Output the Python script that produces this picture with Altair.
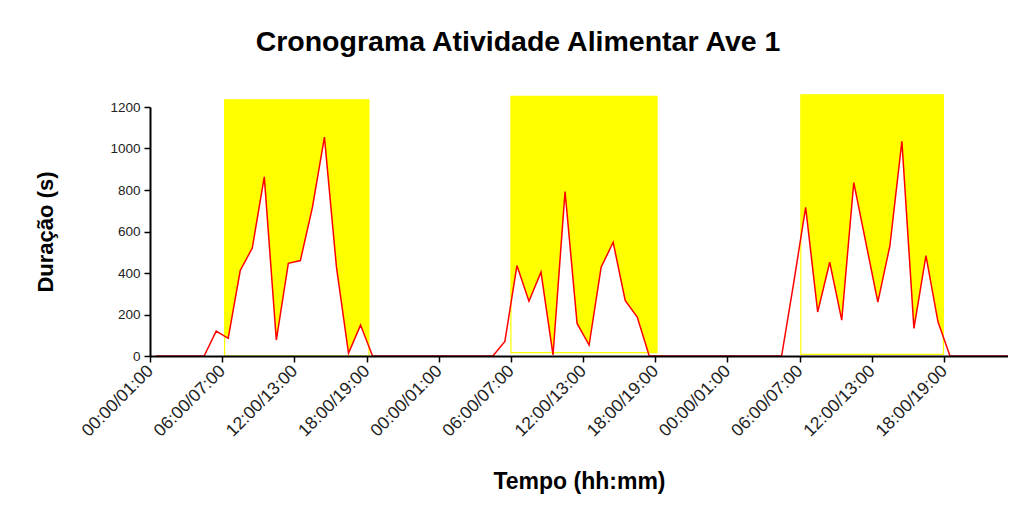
import altair as alt
import pandas as pd

# Hourly feeding duration (s), one list per day, hours 00..23
day1 = [0, 0, 0, 0, 0, 120, 85, 412, 520, 863, 77, 447, 460, 716, 1055, 428, 13, 149, 0, 0, 0, 0, 0, 0]
day2 = [0, 0, 0, 0, 0, 70, 436, 264, 404, 5, 793, 157, 53, 428, 548, 268, 188, 0, 0, 0, 0, 0, 0, 0]
day3 = [0, 0, 0, 0, 0, 350, 716, 212, 452, 173, 836, 548, 260, 530, 1035, 133, 484, 165, 0, 0, 0, 0, 0, 0]

# Light period (yellow) per day, in hours from the start of day 1
light_start = [6.2, 30.0, 54.1]
light_end = [18.2, 42.15, 65.95]
light_top = [1235, 1251, 1259]
light_bottom = [0, 16, 8]

tick_hours = [0, 6, 12, 18, 24, 30, 36, 42, 48, 54, 60, 66]
y_ticks = [0, 200, 400, 600, 800, 1000, 1200]

values = day1 + day2 + day3
line_df = pd.DataFrame({"hora": [h + 0.5 for h in range(len(values))], "duracao": values})
light_df = pd.DataFrame({"x0": light_start, "x1": light_end, "y0": light_bottom, "y1": light_top})

FONT = "Liberation Sans"

x_scale = alt.Scale(domain=[0, 71.32], nice=False, zero=False)
y_scale = alt.Scale(domain=[0, 1200], nice=False)

hh = "(datum.value % 24 < 10 ? '0' : '') + (datum.value % 24)"
hh1 = "(datum.value % 24 + 1 < 10 ? '0' : '') + (datum.value % 24 + 1)"

x_axis = alt.Axis(
    values=tick_hours,
    labelExpr=hh + " + ':00/' + " + hh1 + " + ':00'",
    labelAngle=-45,
    labelAlign="right",
    labelBaseline="middle",
    labelOverlap=False,
    labelFont=FONT,
    labelFontSize=17.5,
    labelColor="#222222",
    labelPadding=6,
    tickSize=6,
    tickColor="black",
    domainColor="black",
    domainWidth=2,
    tickWidth=1.5,
    grid=False,
    title="Tempo (hh:mm)",
    titleFont=FONT,
    titleFontSize=23,
    titleFontWeight="bold",
    titleColor="black",
    titlePadding=31,
    zindex=1,
)

y_axis = alt.Axis(
    values=y_ticks,
    format="d",
    labelFont=FONT,
    labelFontSize=13.5,
    labelColor="#222222",
    labelPadding=4,
    tickSize=6,
    tickColor="black",
    domainColor="black",
    domainWidth=2,
    tickWidth=1.5,
    grid=False,
    title="Duração (s)",
    titleFont=FONT,
    titleFontSize=22,
    titleFontWeight="bold",
    titleColor="black",
    titlePadding=52,
    zindex=1,
)

light = alt.Chart(light_df).mark_rect(color="#FFFF00").encode(
    x=alt.X("x0:Q", scale=x_scale, axis=x_axis),
    x2="x1:Q",
    y=alt.Y("y0:Q", scale=y_scale, axis=y_axis),
    y2="y1:Q",
)

white = alt.Chart(line_df).mark_area(color="white", opacity=1).encode(
    x=alt.X("hora:Q", scale=x_scale),
    y=alt.Y("duracao:Q", scale=y_scale),
)

light_edge = alt.Chart(light_df).mark_rect(fillOpacity=0, stroke="#FFFF00", strokeWidth=1.2).encode(
    x=alt.X("x0:Q", scale=x_scale),
    x2="x1:Q",
    y=alt.Y("y0:Q", scale=y_scale),
    y2="y1:Q",
)

line = alt.Chart(line_df).mark_line(color="#FF0000", strokeWidth=1.5).encode(
    x=alt.X("hora:Q", scale=x_scale),
    y=alt.Y("duracao:Q", scale=y_scale),
)

chart = alt.layer(light, white, light_edge, line).properties(
    width=858,
    height=249,
    title=alt.TitleParams(
        "Cronograma Atividade Alimentar Ave 1",
        font=FONT,
        fontSize=28.5,
        fontWeight="bold",
        color="black",
        anchor="middle",
        frame="group",
        dx=-61,
        offset=38,
    ),
    autosize=alt.AutoSizeParams(type="none"),
    padding={"left": 142, "top": 99, "right": 0, "bottom": 150},
).configure(background="white").configure_view(stroke=None)

chart.save("out.html", embed_options={"renderer": "svg", "actions": False})
